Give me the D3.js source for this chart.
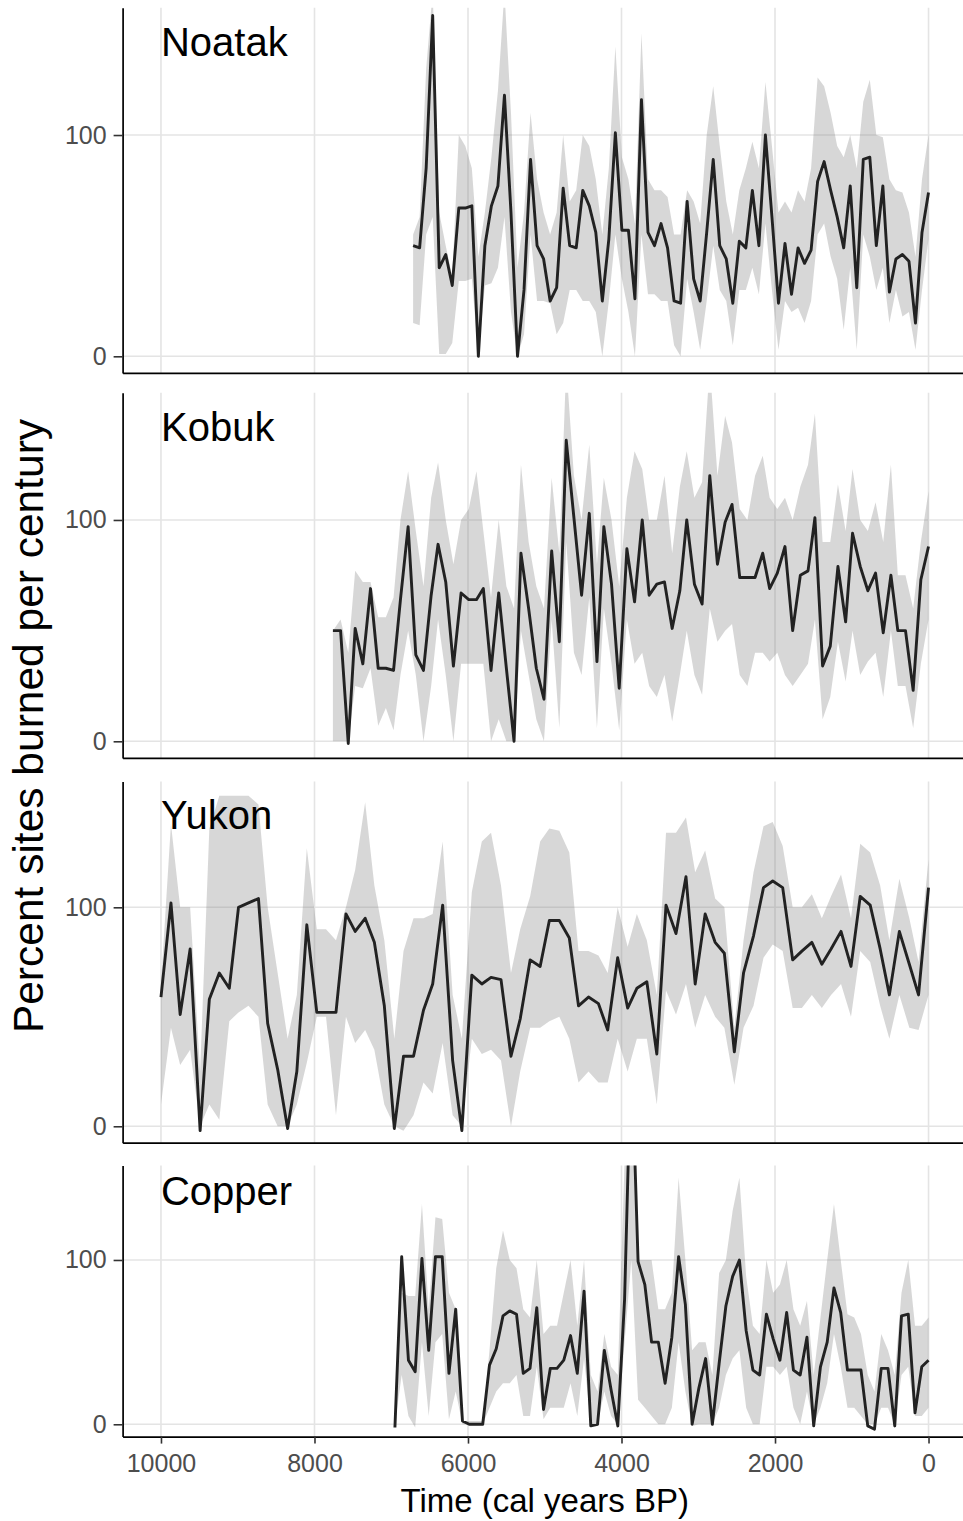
<!DOCTYPE html>
<html>
<head>
<meta charset="utf-8">
<script src="https://cdn.jsdelivr.net/npm/d3@7"></script>
<style>
  body { margin: 0; background: #fff; }
  svg { display: block; font-family: "Liberation Sans", Arial, sans-serif; }
</style>
</head>
<body>
<svg id="chart" width="963" height="1521"></svg>
<script>
// values (cal years BP, percent sites burned per century)
var noatakYear = [6715, 6630, 6545, 6460, 6375, 6290, 6205, 6120, 6035, 5950, 5865, 5780, 5695, 5610, 5525, 5440, 5355, 5270, 5185, 5100,
    5015, 4930, 4845, 4760, 4675, 4590, 4505, 4420, 4335, 4250, 4165, 4080, 3995, 3910, 3825, 3740, 3655, 3570, 3485, 3400,
    3315, 3230, 3145, 3060, 2975, 2890, 2805, 2720, 2635, 2550, 2465, 2380, 2295, 2210, 2125, 2040, 1955, 1870, 1785, 1700,
    1615, 1530, 1445, 1360, 1275, 1190, 1105, 1020, 935, 850, 765, 680, 595, 510, 425, 340, 255, 170, 85, 0];
var noatakMean = [50, 49, 85, 154, 40, 46, 32, 67, 67, 68, 0, 50, 68, 77, 118, 65, 0, 30, 89, 50,
    44, 25, 31, 76, 50, 49, 75, 68, 56, 25, 53, 101, 57, 57, 26, 116, 56, 50, 60, 49,
    25, 24, 70, 35, 25, 56, 89, 50, 44, 24, 52, 49, 75, 50, 100, 63, 24, 51, 28, 49,
    42, 48, 79, 88, 75, 63, 49, 77, 31, 89, 90, 50, 77, 29, 44, 46, 43, 15, 56, 74];
var noatakLow = [15, 14, 55, 63, 1, 1, 6, 34, 34, 35, 0, 32, 33, 40, 63, 20, 0, 10, 55, 25,
    25, 24, 10, 15, 30, 30, 25, 25, 20, 0, 25, 55, 35, 20, 0, 55, 28, 28, 25, 25,
    5, 0, 35, 20, 3, 25, 50, 30, 25, 5, 30, 30, 40, 28, 60, 30, 3, 25, 20, 22,
    15, 25, 55, 60, 45, 35, 12, 40, 3, 55, 45, 30, 40, 15, 30, 18, 20, 3, 30, 53];
var noatakHigh = [55, 63, 130, 165, 65, 50, 36, 100, 95, 85, 45, 65, 90, 120, 165, 110, 40, 65, 110, 80,
    65, 55, 65, 100, 70, 75, 100, 95, 80, 55, 85, 140, 90, 80, 60, 146, 80, 75, 75, 72,
    55, 55, 75, 70, 60, 100, 122, 95, 70, 55, 75, 85, 97, 85, 124, 95, 65, 70, 65, 75,
    70, 85, 126, 122, 110, 95, 90, 100, 85, 115, 125, 100, 99, 80, 75, 74, 65, 45, 80, 100];

var kobukYear = [7760, 7660, 7560, 7470, 7370, 7270, 7170, 7070, 6970, 6880, 6780, 6680, 6580, 6480, 6390, 6290, 6190, 6090, 5990, 5890,
    5800, 5700, 5600, 5500, 5400, 5310, 5210, 5110, 5010, 4910, 4810, 4720, 4620, 4520, 4420, 4320, 4230, 4130, 4030, 3930,
    3830, 3730, 3640, 3540, 3440, 3340, 3240, 3150, 3050, 2950, 2850, 2750, 2650, 2560, 2460, 2360, 2260, 2160, 2070, 1970,
    1870, 1770, 1670, 1570, 1480, 1380, 1280, 1180, 1080, 990, 890, 790, 690, 590, 490, 400, 300, 200, 100, 0];
var kobukMean = [50, 50, -1, 51, 35, 69, 33, 33, 32, 64, 97, 39, 32, 66, 89, 72, 34, 67, 64, 64,
    69, 32, 67, 33, 0, 85, 60, 33, 19, 86, 45, 136, 101, 66, 103, 36, 97, 71, 24, 87,
    63, 100, 66, 71, 72, 51, 68, 100, 71, 62, 120, 80, 99, 107, 74, 74, 74, 85, 69, 76,
    88, 50, 75, 77, 101, 34, 43, 79, 54, 94, 79, 68, 76, 49, 75, 50, 50, 23, 73, 88];
var kobukLow = [0, 0, 0, 25, 24, 33, 7, 15, 5, 30, 50, 30, 0, 25, 55, 30, 0, 35, 35, 35,
    35, 0, 10, 0, 0, 50, 30, 10, 0, 55, 6, 90, 40, 30, 65, 6, 60, 35, 5, 55,
    35, 40, 25, 20, 30, 9, 30, 50, 30, 21, 60, 45, 50, 53, 30, 25, 40, 40, 36, 40,
    30, 25, 30, 35, 55, 10, 20, 45, 27, 50, 30, 36, 40, 20, 50, 25, 25, 6, 35, 55];
var kobukHigh = [50, 55, 40, 77, 72, 72, 56, 56, 65, 100, 122, 95, 70, 110, 126, 100, 80, 100, 105, 122,
    95, 65, 100, 70, 60, 125, 90, 70, 60, 119, 85, 170, 120, 100, 134, 80, 119, 100, 70, 110,
    131, 123, 100, 100, 120, 85, 115, 131, 110, 117, 170, 120, 147, 135, 105, 100, 120, 129, 110, 105,
    110, 100, 115, 125, 148, 90, 90, 116, 95, 123, 100, 95, 108, 90, 125, 75, 75, 60, 90, 113];

var yukonYear = [10000, 9870, 9750, 9620, 9490, 9370, 9240, 9110, 8990, 8860, 8730, 8610, 8480, 8350, 8230, 8100, 7970, 7850, 7720, 7590,
    7470, 7340, 7220, 7090, 6960, 6840, 6710, 6580, 6460, 6330, 6200, 6080, 5950, 5820, 5700, 5570, 5440, 5320, 5190, 5060,
    4940, 4810, 4680, 4560, 4430, 4300, 4180, 4050, 3920, 3800, 3670, 3540, 3420, 3290, 3160, 3040, 2910, 2780, 2660, 2530,
    2410, 2280, 2150, 2030, 1900, 1770, 1650, 1520, 1390, 1270, 1140, 1010, 890, 760, 630, 510, 380, 250, 130, 0];
var yukonMean = [59, 102, 51, 81, -2, 58, 70, 63, 100, 102, 104, 47, 26, -1, 25, 92, 52, 52, 52, 97,
    89, 95, 84, 55, -1, 32, 32, 53, 65, 101, 30, -2, 69, 65, 68, 67, 32, 49, 76, 73,
    94, 94, 86, 55, 59, 56, 44, 77, 54, 63, 66, 33, 101, 88, 114, 65, 97, 84, 79, 34,
    70, 87, 109, 112, 109, 76, 80, 84, 74, 81, 89, 73, 105, 101, 81, 60, 89, 74, 60, 109];
var yukonLow = [10, 45, 28, 35, 0, 10, 3, 48, 52, 55, 50, 10, 0, 0, 10, 29, 50, 50, 5, 50,
    38, 44, 35, 10, 0, -2, 5, 20, 15, 38, 5, 0, 40, 33, 35, 30, 0, 25, 45, 45,
    48, 50, 40, 20, 25, 20, 20, 40, 25, 40, 40, 10, 62, 51, 65, 45, 60, 50, 45, 19,
    45, 55, 77, 83, 80, 54, 54, 60, 54, 60, 65, 50, 80, 75, 55, 40, 60, 45, 44, 60];
var yukonHigh = [65, 138, 100, 100, 25, 136, 151, 151, 151, 151, 147, 100, 70, 40, 60, 127, 90, 90, 85, 100,
    117, 148, 110, 85, 40, 80, 95, 95, 97, 130, 60, 40, 107, 130, 134, 110, 70, 90, 105, 130,
    136, 135, 125, 80, 80, 78, 70, 100, 82, 97, 85, 60, 134, 134, 141, 116, 126, 104, 100, 45,
    85, 116, 137, 139, 128, 100, 100, 106, 95, 105, 115, 95, 129, 125, 110, 85, 113, 95, 75, 122];

var copperYear = [6952, 6864, 6776, 6688, 6600, 6512, 6424, 6336, 6248, 6160, 6072, 5984, 5896, 5808, 5720, 5632, 5544, 5456, 5368, 5280,
    5192, 5104, 5016, 4928, 4840, 4752, 4664, 4576, 4488, 4400, 4312, 4224, 4136, 4048, 3960, 3872, 3784, 3696, 3608, 3520,
    3432, 3344, 3256, 3168, 3080, 2992, 2904, 2816, 2728, 2640, 2552, 2464, 2376, 2288, 2200, 2112, 2024, 1936, 1848, 1760,
    1672, 1584, 1496, 1408, 1320, 1232, 1144, 1056, 968, 880, 792, 704, 616, 528, 440, 352, 264, 176, 88, 0];
var copperMean = [-2, 102, 39, 32, 101, 45, 102, 102, 31, 70, 2, 0, 0, 0, 36, 46, 66, 69, 67, 31,
    34, 71, 9, 34, 34, 39, 54, 31, 81, -1, 0, 45, 21, -1, 76, 230, 99, 85, 50, 50,
    25, 53, 102, 73, 0, 22, 40, 0, 37, 72, 90, 100, 57, 33, 30, 67, 52, 39, 68, 33,
    30, 53, -1, 35, 50, 83, 68, 33, 33, 33, -1, -3, 34, 34, -1, 66, 67, 7, 35, 39];
var copperLow = [0, 30, 5, -2, 50, 5, 50, 55, 3, 20, 0, 0, 0, 0, 10, 20, 25, 25, 30, 5,
    5, 35, 3, 10, 10, 10, 25, 5, 40, 0, 0, 20, 5, 0, 50, 100, 15, 10, 5, 0,
    0, 10, 50, 20, -1, 0, 0, 0, 10, 30, 40, 45, 10, 0, 0, 35, 35, 30, 35, 10,
    0, 20, 0, 10, 25, 55, 35, 10, 10, 5, 0, 0, 10, 10, 0, 30, 35, 5, 5, 10];
var copperHigh = [5, 80, 78, 78, 134, 70, 126, 125, 80, 70, 2, 2, 2, 2, 45, 95, 118, 100, 95, 70,
    65, 100, 55, 60, 60, 80, 100, 60, 100, 30, 20, 55, 35, 30, 160, 250, 100, 100, 100, 70,
    70, 80, 150, 100, 45, 50, 50, 30, 92, 100, 130, 150, 90, 60, 55, 100, 80, 85, 100, 70,
    60, 75, 30, 65, 100, 134, 100, 67, 65, 55, 30, 20, 55, 45, 30, 80, 100, 60, 60, 65];

var panelNames = ["Noatak", "Kobuk", "Yukon", "Copper"];
var xTicks = [10000, 8000, 6000, 4000, 2000, 0];
var yTicks = [0, 100];

// layout: each panel has its own vertical extent, all share the x scale
var panels = [
    {name: panelNames[0], year: noatakYear, mean: noatakMean, low: noatakLow, high: noatakHigh, top: 7.8, bottom: 372.9},
    {name: panelNames[1], year: kobukYear, mean: kobukMean, low: kobukLow, high: kobukHigh, top: 392.7, bottom: 757.9},
    {name: panelNames[2], year: yukonYear, mean: yukonMean, low: yukonLow, high: yukonHigh, top: 781.4, bottom: 1142.7},
    {name: panelNames[3], year: copperYear, mean: copperMean, low: copperLow, high: copperHigh, top: 1165.5, bottom: 1436.6}
];

var svg = d3.select("#chart");
var x = d3.scaleLinear().domain([10500, -500]).range([122.6, 966.9]);
var left = x.range()[0], right = x.range()[1];

panels.forEach(function (p, i) {
    var y = d3.scaleLinear().domain([-7.5, 157.5]).range([p.bottom, p.top]);
    var rows = p.year.map(function (yr, j) {
        return {year: yr, mean: p.mean[j], low: p.low[j], high: p.high[j]};
    });

    svg.append("clipPath")
        .attr("id", "clip" + i)
        .append("rect")
        .attr("x", left)
        .attr("y", p.top)
        .attr("width", right - left)
        .attr("height", p.bottom - p.top);

    var g = svg.append("g");

    g.selectAll(".vgrid")
        .data(xTicks)
        .enter().append("line")
        .attr("x1", function (d) { return x(d); })
        .attr("x2", function (d) { return x(d); })
        .attr("y1", p.top)
        .attr("y2", p.bottom)
        .attr("stroke", "#e4e4e4")
        .attr("stroke-width", 1.6);

    g.selectAll(".hgrid")
        .data(yTicks)
        .enter().append("line")
        .attr("x1", left)
        .attr("x2", right)
        .attr("y1", function (d) { return y(d); })
        .attr("y2", function (d) { return y(d); })
        .attr("stroke", "#e4e4e4")
        .attr("stroke-width", 1.6);

    var plot = g.append("g").attr("clip-path", "url(#clip" + i + ")");

    var ribbon = d3.area()
        .x(function (d) { return x(d.year); })
        .y0(function (d) { return y(d.low); })
        .y1(function (d) { return y(d.high); });

    var line = d3.line()
        .x(function (d) { return x(d.year); })
        .y(function (d) { return y(d.mean); });

    plot.append("path")
        .datum(rows)
        .attr("d", ribbon)
        .attr("fill", "#7a7a7a")
        .attr("fill-opacity", 0.3);

    plot.append("path")
        .datum(rows)
        .attr("d", line)
        .attr("fill", "none")
        .attr("stroke", "#222")
        .attr("stroke-width", 2.9)
        .attr("stroke-linejoin", "round");

    g.append("text")
        .attr("x", x(10000))
        .attr("y", y(142))
        .attr("dy", "0.35em")
        .attr("font-size", 40)
        .attr("fill", "#000")
        .text(p.name);

    var yAxis = g.append("g")
        .attr("transform", "translate(" + left + ",0)")
        .call(d3.axisLeft(y).tickValues(yTicks).tickSizeInner(9).tickSizeOuter(0).tickPadding(7));

    var isLast = i === panels.length - 1;
    var xAxis = g.append("g")
        .attr("transform", "translate(0," + p.bottom + ")")
        .call(d3.axisBottom(x).tickValues(isLast ? xTicks : []).tickFormat(d3.format("d"))
            .tickSizeInner(7).tickSizeOuter(0).tickPadding(10.5));

    [yAxis, xAxis].forEach(function (ax) {
        ax.select(".domain").attr("stroke", "#000").attr("stroke-width", 1.7);
        ax.selectAll(".tick line").attr("stroke", "#333").attr("stroke-width", 1.6);
        ax.selectAll(".tick text")
            .attr("fill", "#4d4d4d")
            .style("font-size", "25px")
            .style("font-family", "'Liberation Sans', Arial, sans-serif");
    });
});

svg.append("text")
    .attr("x", (left + right) / 2)
    .attr("y", 1512)
    .attr("text-anchor", "middle")
    .attr("font-size", 33)
    .attr("fill", "#000")
    .text("Time (cal years BP)");

svg.append("text")
    .attr("transform", "translate(43,726) rotate(-90)")
    .attr("text-anchor", "middle")
    .attr("font-size", 42.5)
    .attr("fill", "#000")
    .text("Percent sites burned per century");
</script>
</body>
</html>
